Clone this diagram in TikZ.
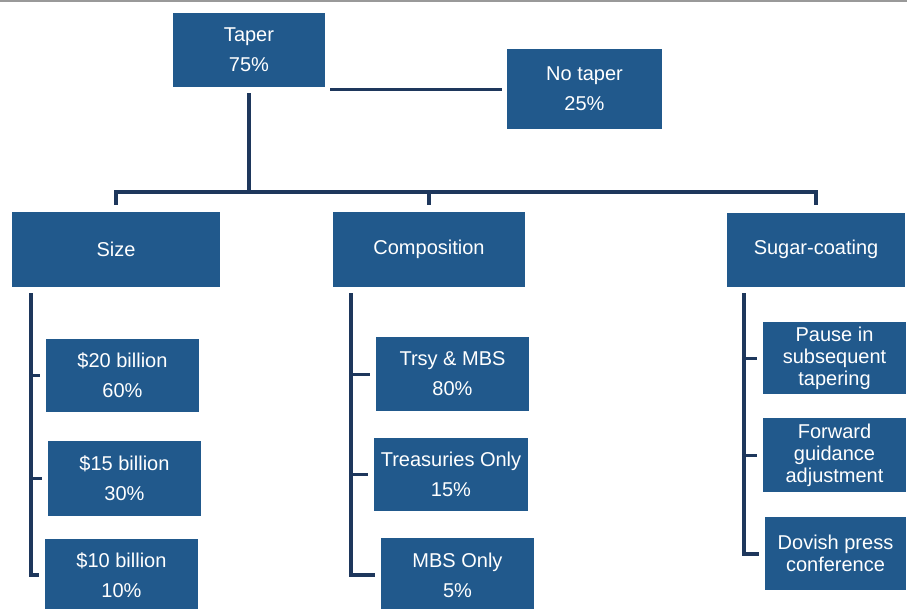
\documentclass[tikz,border=0pt]{standalone}
\usepackage{fontspec}
\setmainfont{Liberation Sans}
\definecolor{boxblue}{RGB}{33,89,140}
\definecolor{linenavy}{RGB}{30,55,92}
\begin{document}
\begin{tikzpicture}[x=1pt,y=-1pt,
  box/.style={fill=boxblue, draw=none, text=white, align=center, inner sep=0pt,
    font=\fontsize{20}{30}\selectfont},
  tight/.style={font=\fontsize{20}{22}\selectfont},
  conn/.style={draw=linenavy, line width=4pt, line join=miter},
  thinconn/.style={draw=linenavy, line width=3pt}]
\useasboundingbox (0,0) rectangle (907,608);
\clip (0,0) rectangle (907,608);
\fill[white] (0,0) rectangle (907,608);
\draw[gray!80, line width=2pt] (0,1) -- (907,1);

% top level
\node[box, minimum width=152, minimum height=74] (taper) at (249,50) {Taper\\75\%};
\node[box, minimum width=155, minimum height=80] (notaper) at (584.5,89) {No taper\\25\%};

% second level
\node[box, minimum width=208, minimum height=75] (size) at (116,249.5) {Size};
\node[box, minimum width=192, minimum height=75] (comp) at (429,249.5) {Composition};
\node[box, minimum width=178, minimum height=74] (sugar) at (816,249.5) {Sugar-coating};

% size children
\node[box, minimum width=153, minimum height=73] (s20) at (122.5,375.5) {\$20 billion\\60\%};
\node[box, minimum width=153, minimum height=75] (s15) at (124.5,478.5) {\$15 billion\\30\%};
\node[box, minimum width=153, minimum height=73] (s10) at (121.5,575) {\$10 billion\\10\%};

% composition children
\node[box, minimum width=153, minimum height=74] (c1) at (452.5,374) {Trsy \& MBS\\80\%};
\node[box, minimum width=154, minimum height=73] (c2) at (451,474.5) {Treasuries Only\\15\%};
\node[box, minimum width=153, minimum height=74] (c3) at (457.5,575) {MBS Only\\5\%};

% sugar-coating children
\node[box, tight, minimum width=143, minimum height=72] (p1) at (834.5,358) {Pause in\\subsequent\\tapering};
\node[box, tight, minimum width=143, minimum height=74] (p2) at (834.5,455) {Forward\\guidance\\adjustment};
\node[box, tight, minimum width=141, minimum height=73] (p3) at (835.5,553.5) {Dovish press\\conference};

% taper -- no taper
\draw[thinconn] ([xshift=5pt]taper.east |- notaper.west) -- ([xshift=-5pt]notaper.west);

% bus
\coordinate (bus) at (0,192);
\draw[conn] ([yshift=-6pt]taper.south) -- (taper.south |- bus);
\draw[conn] ([yshift=7pt]size.north) |- (bus -| sugar.north) -- ([yshift=7pt]sugar.north);
\draw[conn] (comp.north |- bus) -- ([yshift=7pt]comp.north);

% size branch
\coordinate (szv) at (31,293);
\draw[conn] (szv) |- ([xshift=-6pt]s10.west);
\draw[thinconn] (szv |- s20.west) -- ([xshift=-6pt]s20.west);
\draw[thinconn] (szv |- s15.west) -- ([xshift=-6pt]s15.west);

% composition branch
\coordinate (cmv) at (351,293);
\draw[conn] (cmv) |- ([xshift=-6pt]c3.west);
\draw[thinconn] (cmv |- c1.west) -- ([xshift=-6pt]c1.west);
\draw[thinconn] (cmv |- c2.west) -- ([xshift=-6pt]c2.west);

% sugar branch
\coordinate (sgv) at (744,293);
\draw[conn] (sgv) |- ([xshift=-6pt]p3.west);
\draw[thinconn] (sgv |- p1.west) -- ([xshift=-6pt]p1.west);
\draw[thinconn] (sgv |- p2.west) -- ([xshift=-6pt]p2.west);
\end{tikzpicture}
\end{document}
